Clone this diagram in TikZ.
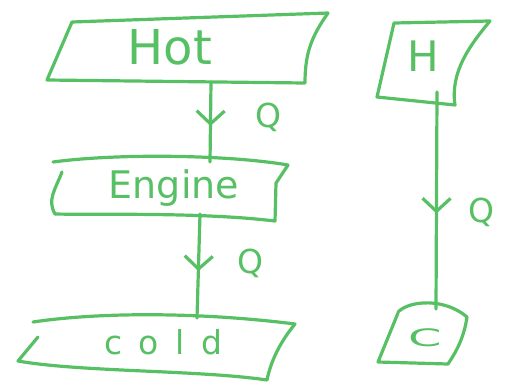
\documentclass[tikz,border=0pt]{standalone}
\usepackage{fontspec}
\setmainfont{DejaVu Sans}
\usetikzlibrary{arrows.meta,decorations.markings}
\definecolor{pen}{RGB}{88,192,100}
\tikzset{
  ink/.style={draw=pen, line width=3.2pt, line cap=round, line join=round},
  label/.style={text=pen, inner sep=0pt},
  flow/.style={ink, postaction={decorate}, decoration={markings,
      mark=at position #1 with {\arrow[pen, line width=3.2pt]{Straight Barb[width=28pt,length=13pt]}}}}
}
\begin{document}
\begin{tikzpicture}[x=1pt,y=-1pt]
\useasboundingbox (0,0) rectangle (508,384);

% reservoir and engine outlines
\draw[ink] (72,22) -- (328,13) .. controls (312,36) and (305,52) .. (305,83)
           -- (47,80) -- cycle;
\draw[ink] (53,162) .. controls (120,153) and (230,155) .. (288,165)
           -- (276,183) -- (275,221)
           .. controls (200,212) and (100,215) .. (55,214);
\draw[ink] (62,172) .. controls (55,190) and (47,200) .. (55,214);
\draw[ink] (33,322) .. controls (100,312) and (200,312) .. (295,324)
           .. controls (281,341) and (271,360) .. (267,380)
           .. controls (200,370) and (80,372) .. (18,361) -- (38,337);
\draw[ink] (394,23) -- (490,21) .. controls (470,45) and (450,72) .. (455,105)
           -- (377,97) -- cycle;
\draw[ink] (398,312) .. controls (410,300) and (445,298) .. (467,317)
           .. controls (464,338) and (456,352) .. (448,364)
           -- (378,362) -- (398,313);

% labels
\node[label, font=\fontsize{48}{48}\selectfont] (hot) at (170,47) {Hot};
\node[label, font=\fontsize{38}{38}\selectfont] (engine) at (174,188) {Engine};
\node[label, font=\fontsize{33}{33}\selectfont\addfontfeatures{LetterSpace=50}] (cold) at (163,342) {cold};
\node[label, font=\fontsize{42}{42}\selectfont] (hres) at (423,56) {H};
\node[label, font=\fontsize{24}{24}\selectfont, xscale=2] (cres) at (425,338) {C};
\node[label, font=\fontsize{33}{33}\selectfont] (qa) at (268,117) {Q};
\node[label, font=\fontsize{33}{33}\selectfont] (qb) at (250,263) {Q};
\node[label, font=\fontsize{33}{33}\selectfont] (qc) at (481,212) {Q};

% attachment points on the outlines
\coordinate (hotB) at (211,82);
\coordinate (engT) at (210,162);
\coordinate (engB) at (200,214);
\coordinate (coldT) at (197,318);
\coordinate (hB) at (437,92);
\coordinate (cT) at (436,309);

% heat flow
\draw[flow=0.55] (hotB) -- (engT);
\draw[flow=0.55] (engB) -- (coldT);
\draw[flow=0.56] (hB) -- (cT);
\end{tikzpicture}
\end{document}
